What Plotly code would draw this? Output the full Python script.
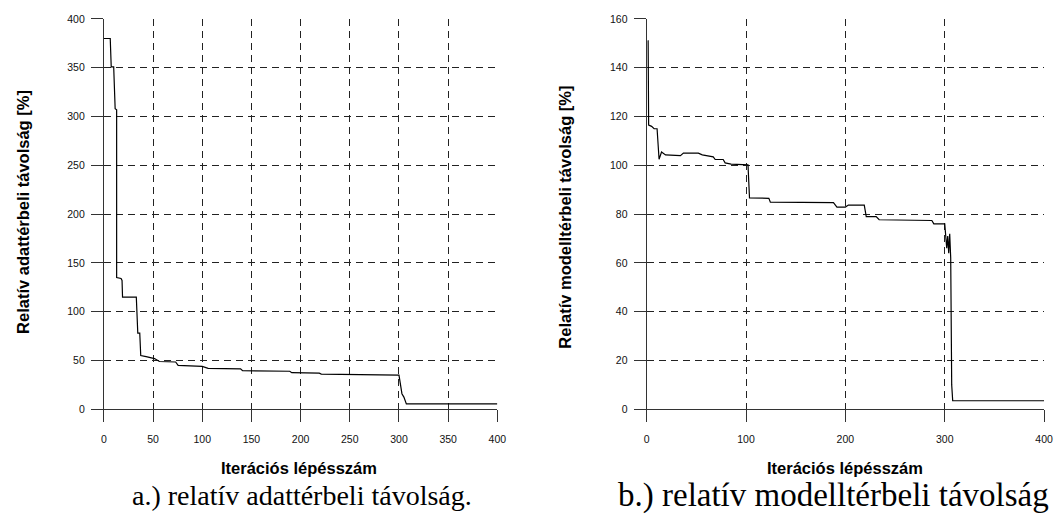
import plotly.graph_objects as go

# ---- data ----
iter_a = [0, 6.5, 7.5, 10, 11.5, 13, 13, 17.5, 18.5, 19, 33, 34.5, 36.5, 37.5, 43, 48, 51.5, 56.5,
          73, 75.5, 100, 106, 139, 141, 189, 191, 219, 221, 300, 303, 305, 307.5, 400]
dist_a = [380, 380, 351, 351, 308, 307, 135, 134, 132, 115, 115, 78, 78, 55, 54, 53, 52, 49,
          48.5, 45, 44, 42, 41.5, 39.5, 39, 37.5, 37, 36, 35, 16, 12.5, 5.5, 5.5]

iter_b = [1, 1.5, 2, 5, 7.5, 10.5, 12.5, 15, 19, 34, 37, 52, 56, 67, 69, 77, 79, 85, 102, 103.5,
          123, 124.5, 188, 191.5, 200, 203, 219, 221, 231, 234, 287, 289, 300, 301, 302, 303, 304,
          305, 306, 307, 308, 400]
dist_b = [151, 151, 116.5, 116, 115, 115, 102.5, 105.5, 104.3, 104, 105, 105, 104.3, 103.5, 102.4,
          102.4, 101, 100.5, 100.2, 86.7, 86.5, 84.9, 84.7, 82.9, 82.9, 83.7, 83.7, 79, 79, 77.7,
          77.4, 76, 76, 70, 66, 71, 64, 72, 62, 10, 3.5, 3.5]

xticks_a = [0, 50, 100, 150, 200, 250, 300, 350, 400]
yticks_a = [0, 50, 100, 150, 200, 250, 300, 350, 400]
xticks_b = [0, 100, 200, 300, 400]
yticks_b = [0, 20, 40, 60, 80, 100, 120, 140, 160]

ytitle_a = "Relatív adattérbeli távolság [%]"
ytitle_b = "Relatív modelltérbeli távolság [%]"
xtitle = "Iterációs lépésszám"
caption_a = "a.) relatív adattérbeli távolság."
caption_b = "b.) relatív modelltérbeli távolság"

W, H = 1063, 526

fig = go.Figure()
fig.add_trace(go.Scatter(x=iter_a, y=dist_a, mode="lines", xaxis="x", yaxis="y",
                         line=dict(color="black", width=1.2), showlegend=False))
fig.add_trace(go.Scatter(x=iter_b, y=dist_b, mode="lines", xaxis="x2", yaxis="y2",
                         line=dict(color="black", width=1.2), showlegend=False))

tickfont = dict(family="Liberation Sans, Arial, sans-serif", size=10.5, color="#111")
common = dict(showline=True, linecolor="#333", linewidth=1, ticks="outside", ticklen=12,
              tickcolor="#333", tickwidth=1, showgrid=True, gridcolor="#222", gridwidth=1,
              griddash="7px,5px", zeroline=False, tickfont=tickfont, fixedrange=True)

y0 = (H - 412.7) / H
y1 = (H - 13.3) / H
fig.update_layout(
    width=W, height=H, margin=dict(l=0, r=0, t=0, b=0),
    paper_bgcolor="white", plot_bgcolor="white",
    xaxis=dict(domain=[102 / W, 500 / W], range=[0, 400], tickvals=xticks_a,
               anchor="y", ticklabelstandoff=8, **common),
    yaxis=dict(domain=[y0, y1], range=[0, 400], tickvals=yticks_a,
               anchor="x", ticklabelstandoff=4, **common),
    xaxis2=dict(domain=[651 / W, 1053 / W], range=[0, 400], tickvals=xticks_b,
                anchor="y2", ticklabelstandoff=8, **common),
    yaxis2=dict(domain=[y0, y1], range=[0, 160], tickvals=yticks_b,
                anchor="x2", ticklabelstandoff=4, **common),
)

title_font = dict(family="Liberation Sans, Arial, sans-serif", size=16.5, color="black")
cap_font_a = dict(family="Liberation Serif, Times New Roman, serif", size=28, color="black")
cap_font_b = dict(family="Liberation Serif, Times New Roman, serif", size=33, color="black")

def ann(text, x, y, font, angle=0):
    fig.add_annotation(text=text, x=x / W, y=(H - y) / H, xref="paper", yref="paper",
                       showarrow=False, font=font, textangle=angle,
                       xanchor="center", yanchor="middle")

ann("<b>%s</b>" % ytitle_a, 20, 211, title_font, -90)
ann("<b>%s</b>" % ytitle_b, 568, 216, title_font, -90)
ann("<b>%s</b>" % xtitle, 299, 473, title_font)
ann("<b>%s</b>" % xtitle, 852, 473, title_font)
ann(caption_a, 302, 501, cap_font_a)
ann(caption_b, 840, 501, cap_font_b)

fig.write_html("out.html",
               post_script="document.body.style.margin='0';document.body.style.overflow='hidden';")
